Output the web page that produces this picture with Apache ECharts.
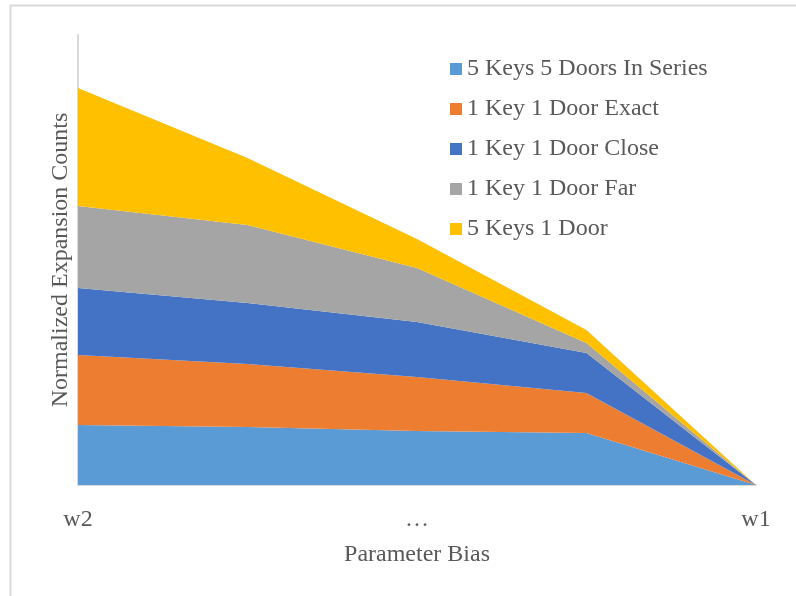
<!DOCTYPE html>
<html>
<head>
<meta charset="utf-8">
<script src="https://cdn.jsdelivr.net/npm/echarts@6/dist/echarts.min.js"></script>
<style>html,body{margin:0;padding:0;background:#fff}#c{width:796px;height:596px}</style>
</head>
<body>
<div id="c"></div>
<script>
const categories = ["w2", "", "…", "", "w1"];
const seriesNames = ["5 Keys 5 Doors In Series", "1 Key 1 Door Exact", "1 Key 1 Door Close", "1 Key 1 Door Far", "5 Keys 1 Door"];
const keys5Doors5Series = [60, 58, 54, 52, 0];
const key1Door1Exact = [70, 63, 54, 40, 0];
const key1Door1Close = [67, 61, 55, 40, 0];
const key1Door1Far = [82, 78, 54, 10, 0];
const keys5Door1 = [118, 67, 29, 13, 0];
const colors = ["#5B9BD5", "#ED7D31", "#4472C4", "#A5A5A5", "#FFC000"];

const dataSets = [keys5Doors5Series, key1Door1Exact, key1Door1Close, key1Door1Far, keys5Door1];
const font = "'Liberation Serif', 'Times New Roman', serif";
const chart = echarts.init(document.getElementById('c'));
chart.setOption({
  animation: false,
  color: colors,
  graphic: [{
    type: 'rect', shape: {x: 10.5, y: 5.5, width: 820, height: 620},
    style: {fill: 'none', stroke: '#d9d9d9', lineWidth: 2}, silent: true
  }],
  grid: {left: 78, right: 40, top: 35, bottom: 111},
  legend: {
    orient: 'vertical', left: 445, top: 52, itemWidth: 12, itemHeight: 12, itemGap: 16,
    icon: 'rect',
    textStyle: {fontFamily: font, fontSize: 24, color: '#595959'},
    data: seriesNames
  },
  xAxis: {
    type: 'category', data: categories, boundaryGap: false,
    axisLine: {lineStyle: {color: '#d9d9d9', width: 2}},
    axisTick: {show: false},
    axisLabel: {interval: 0, fontFamily: font, fontSize: 24, color: '#595959', margin: 23},
    name: 'Parameter Bias', nameLocation: 'middle', nameGap: 58,
    nameTextStyle: {fontFamily: font, fontSize: 24, color: '#595959'}
  },
  yAxis: {
    type: 'value', min: 0, max: 450,
    axisLine: {show: true, lineStyle: {color: '#d9d9d9', width: 2}},
    axisTick: {show: false}, axisLabel: {show: false}, splitLine: {show: false},
    name: 'Normalized Expansion Counts', nameLocation: 'middle', nameGap: 5,
    nameTextStyle: {fontFamily: font, fontSize: 24, color: '#595959'}
  },
  series: dataSets.map((d, i) => ({
    name: seriesNames[i], type: 'line', stack: 'total', data: d,
    showSymbol: false, symbol: 'none',
    lineStyle: {width: 0}, areaStyle: {color: colors[i], opacity: 1},
    itemStyle: {color: colors[i]}
  }))
});
</script>
</body>
</html>
